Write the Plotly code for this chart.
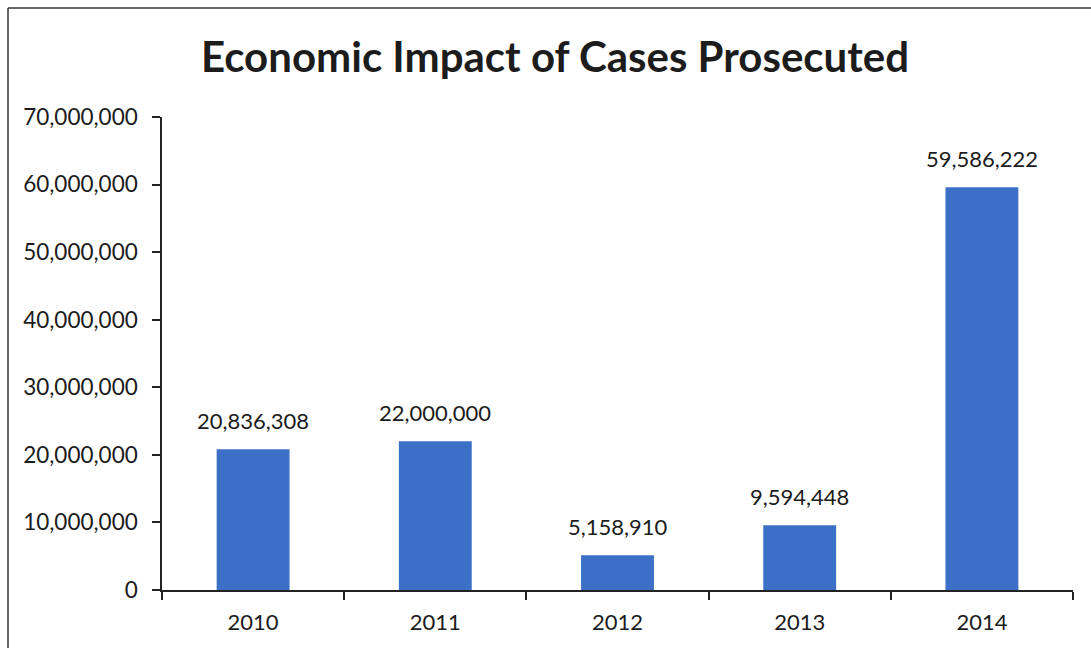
import plotly.graph_objects as go

# Economic impact of prosecuted cases by year
years = ["2010", "2011", "2012", "2013", "2014"]
impact = [20836308, 22000000, 5158910, 9594448, 59586222]
y_ticks = [0, 10000000, 20000000, 30000000, 40000000, 50000000, 60000000, 70000000]

W, H = 1091, 648
L, R, T, B = 162, 18, 117, 58

FONT = "Lato"
INK = "#1c1c1c"
BAR = "#3C70C6"

fig = go.Figure()
fig.add_trace(go.Bar(
    x=years,
    y=impact,
    marker=dict(color=BAR, line=dict(width=0)),
    width=0.4,
    hoverinfo="x+y",
))

# value labels above each bar (x given as category index)
for i, v in enumerate(impact):
    fig.add_annotation(
        x=i, y=v, xref="x", yref="y",
        text=f"{v:,}", showarrow=False,
        yanchor="bottom", yshift=13,
        font=dict(family=FONT, size=22, color=INK),
    )

# chart frame (top and left edges)
px_x = lambda p: (p - L) / (W - L - R)
px_y = lambda p: (H - B - p) / (H - T - B)
frame = dict(color="#333333", width=1.5)
fig.add_shape(type="line", xref="paper", yref="paper",
              x0=px_x(8), x1=px_x(W + 5), y0=px_y(8), y1=px_y(8), line=frame)
fig.add_shape(type="line", xref="paper", yref="paper",
              x0=px_x(8), x1=px_x(8), y0=px_y(8), y1=px_y(H + 5), line=frame)

fig.update_layout(
    width=W, height=H,
    margin=dict(l=L, r=R, t=T, b=B),
    paper_bgcolor="white",
    plot_bgcolor="white",
    showlegend=False,
    title=dict(
        text="<b>Economic Impact of Cases Prosecuted</b>",
        x=555 / W, xref="container", xanchor="center",
        y=1 - 57 / H, yref="container", yanchor="middle",
        font=dict(family=FONT, size=42, color=INK),
    ),
    xaxis=dict(
        type="category",
        range=[-0.5, len(years) - 0.5],
        showline=True, linecolor="#222222", linewidth=1.5,
        ticks="outside", tickson="boundaries", ticklen=8, tickwidth=1.5,
        tickcolor="#222222",
        tickfont=dict(family=FONT, size=22, color=INK),
        ticklabelstandoff=12,
        tickangle=0,
        showgrid=False, zeroline=False,
    ),
    yaxis=dict(
        range=[0, 70000000],
        tickvals=y_ticks,
        tickformat=",",
        showline=True, linecolor="#222222", linewidth=1.5,
        ticks="outside", ticklen=8, tickwidth=1.5, tickcolor="#222222",
        tickfont=dict(family=FONT, size=22.5, color=INK),
        ticklabelstandoff=10,
        showgrid=False, zeroline=False,
    ),
)

fig.write_html("out.html")
